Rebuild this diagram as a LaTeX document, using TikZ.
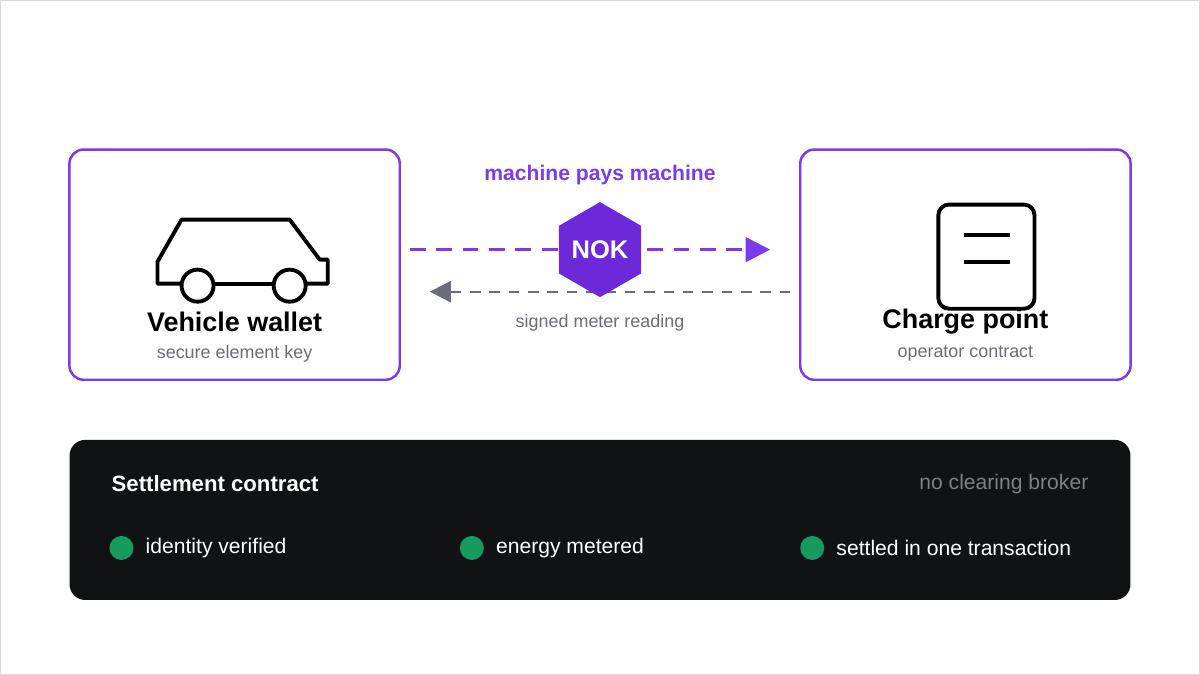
\documentclass[tikz,border=0pt]{standalone}
\usepackage{fontspec}
\setmainfont{Liberation Sans}
\usetikzlibrary{shapes.geometric,arrows.meta}
\definecolor{brand}{HTML}{7C3AED}
\definecolor{hexfill}{HTML}{6D28D9}
\definecolor{muted}{HTML}{6B6B7B}
\definecolor{panel}{HTML}{111214}
\definecolor{okgreen}{HTML}{169A5E}
\begin{document}
\begin{tikzpicture}[
            x=0.02cm, y=-0.02cm,
            card/.style={
                rectangle,
                draw=brand,
                line width=1.4pt,
                rounded corners=8pt,
                minimum width=6.6cm,
                minimum height=4.6cm
            },
            heading/.style={
                font=\bfseries\fontsize{15.3}{17}\selectfont,
                text=black
            },
            sub/.style={
                font=\fontsize{10.2}{12}\selectfont,
                text=muted
            },
            icon/.style={line width=2.2pt, draw=black, line join=round},
            dot/.style={circle, fill=okgreen, minimum size=0.48cm, inner sep=0pt},
            check/.style={font=\fontsize{12}{14}\selectfont, text=white, anchor=west},
            flow/.style={dashed, dash pattern=on 9pt off 6pt, line width=1.6pt}
        ]

        % Frame
        \draw[draw=black!15, fill=white] (1,1) rectangle (1199,674);

        % Cards
        \node[card] (wallet) at (235,265) {};
        \node[card] (charger) at (965,265) {};

        % Car icon
        \draw[icon] (182,284) -- (158,284) -- (158,262) -- (182,220) -- (290,220) -- (320,260)
            -- (328,260) -- (328,284) -- (306,284);
        \draw[icon] (214,284) -- (274,284);
        \node[circle, icon, fill=white, minimum size=0.64cm, inner sep=0pt] (wheelL) at (198,286) {};
        \node[circle, icon, fill=white, minimum size=0.64cm, inner sep=0pt] (wheelR) at (290,286) {};

        % Charge point icon
        \draw[icon, rounded corners=6pt] (938,205) rectangle (1034,309);
        \draw[icon] (964,235) -- (1010,235);
        \draw[icon] (964,262) -- (1010,262);

        % Card texts
        \node[heading] (walletT) at (235,322) {Vehicle wallet};
        \node[sub] (walletS) at (235,354) {secure element key};
        \node[heading] (chargerT) at (965,322) {Charge point};
        \node[sub] (chargerS) at (965,354) {operator contract};

        % Middle link
        \node[font=\bfseries\fontsize{12}{14}\selectfont, text=brand] (motto) at (600,175) {machine pays machine};
        \coordinate (payFrom) at (410,250);
        \coordinate (payTo) at (770,250);
        \coordinate (readFrom) at (790,292);
        \coordinate (readTo) at (430,292);
        \draw[flow, draw=brand, -{Triangle[length=14pt,width=14pt]}] (payFrom) -- (payTo);
        \draw[flow, draw=muted, line width=1.3pt, dash pattern=on 6pt off 5pt, -{Triangle[length=12pt,width=12pt]}] (readFrom) -- (readTo);
        \node[regular polygon, regular polygon sides=6, shape border rotate=30, fill=hexfill, minimum size=1.9cm,
              inner sep=0pt, text=white, font=\bfseries\fontsize{14.5}{16}\selectfont] (token) at (600,250) {NOK};
        \node[sub] (reading) at (600,323) {signed meter reading};

        % Settlement panel
        \node[rectangle, fill=panel, rounded corners=9pt, minimum width=21.2cm, minimum height=3.2cm] (panel) at (600,520) {};
        \node[font=\bfseries\fontsize{12.6}{14}\selectfont, text=white, anchor=west] (panelT) at (106,484) {Settlement contract};
        \node[font=\fontsize{12}{14}\selectfont, text=black!50, anchor=east] (panelN) at (1094,484) {no clearing broker};
        \node[dot] (d1) at (122,548) {};
        \node[check] (c1) at (140,548) {identity verified};
        \node[dot] (d2) at (472,548) {};
        \node[check] (c2) at (490,548) {energy metered};
        \node[dot] (d3) at (812,548) {};
        \node[check] (c3) at (830,548) {settled in one transaction};

        \end{tikzpicture}
\end{document}
